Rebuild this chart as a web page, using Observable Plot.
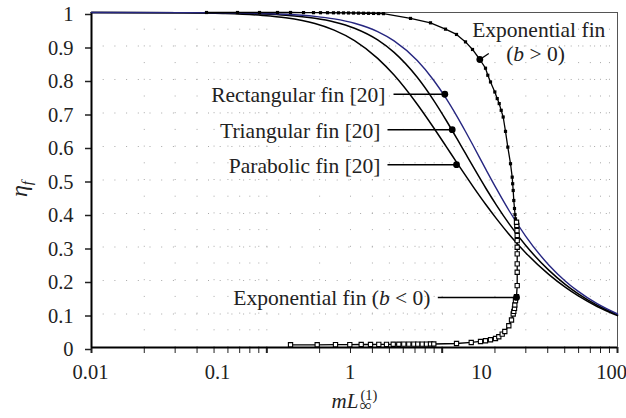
<!DOCTYPE html>
<html><head><meta charset="utf-8">
<script src="https://cdn.jsdelivr.net/npm/d3@7"></script>
<script src="https://cdn.jsdelivr.net/npm/@observablehq/plot@0.6"></script>
<style>
body{margin:0;background:#fff;}
#chart{width:626px;height:418px;overflow:hidden;}
</style></head><body><div id="chart"></div>
<script>
// ---- data (x = mL∞(1) as read against the axis labels, y = η_f) ----
const mL = [0.01,0.05,0.1,0.2,0.3,0.5,0.7,1,1.5,2,3,4,5,6,7,8,10,12,15,20,30,40,50,70,100];
const etaRect = [1.0,0.9996,0.9990,0.9970,0.9946,0.9884,0.9809,0.9680,0.9430,0.9153,0.8566,0.7978,0.7421,0.6907,0.6441,0.6023,0.5311,0.4741,0.4082,0.3327,0.2465,0.1988,0.1682,0.1307,0.1000];
const etaTri  = [1.0,0.9994,0.9984,0.9956,0.9919,0.9827,0.9718,0.9531,0.9182,0.8809,0.8065,0.7378,0.6769,0.6241,0.5784,0.5389,0.4746,0.4250,0.3689,0.3050,0.2310,0.1887,0.1610,0.1263,0.0975];
const etaPara = [1.0,0.9989,0.9969,0.9912,0.9841,0.9670,0.9474,0.9161,0.8631,0.8131,0.7261,0.6559,0.5989,0.5521,0.5129,0.4796,0.4260,0.3847,0.3376,0.2831,0.2181,0.1800,0.1546,0.1224,0.0951];

const expPosX   = [0.0749,0.1289,0.1895,0.2597,0.3262,0.4096,0.4878,0.5513,0.6233,0.6922,0.7555,0.8249,0.9003,0.9826,1.0725,1.1706,1.2779,1.3946,1.5222,1.6614,2.667,3.784,4.920,5.968,6.986,7.896,8.974,9.913,10.32,10.82,11.67,12.17,12.60,13.05,13.51,14.07,14.65,15.36,15.82,15.95,16.10,16.27,16.47,16.62,16.76];
const expPosEta = [1.0,1.0,1.0,1.0,1.0,0.9997,0.9996,0.9994,0.9993,0.9991,0.9990,0.9988,0.9986,0.9984,0.9981,0.9978,0.9975,0.9972,0.9969,0.9966,0.9823,0.9692,0.9503,0.9345,0.9123,0.8896,0.8597,0.8337,0.8127,0.7927,0.7628,0.7430,0.7281,0.7080,0.6880,0.6452,0.5982,0.5486,0.5085,0.4888,0.4687,0.4388,0.4149,0.3969,0.3841];

const expNegX   = [0.3262,0.5204,0.7169,0.9211,1.1246,1.3233,1.5302,1.7512,1.9701,2.1727,2.3714,2.5882,2.8249,3.0295,3.2722,3.5277,3.7844,4.0087,5.968,7.722,9.084,9.913,10.82,11.81,12.51,13.28,13.90,14.91,15.63,16.10,16.27,16.47,16.56,16.76,17.06,17.27,17.27,17.27,17.27,17.27,17.27,17.27,17.21,17.15,17.06];
const expNegEta = [0.0081,0.0081,0.0087,0.0087,0.0090,0.0090,0.0093,0.0093,0.0096,0.0096,0.0099,0.0099,0.0099,0.0102,0.0102,0.0102,0.0105,0.0105,0.0120,0.0150,0.0180,0.0201,0.0231,0.0270,0.0321,0.0401,0.0479,0.0650,0.0821,0.0999,0.1078,0.1168,0.1270,0.1398,0.1518,0.1847,0.2245,0.2496,0.2795,0.2993,0.3192,0.3342,0.3491,0.3641,0.3740];

// annotated points
const annLabels = ["Rectangular fin [20]","Triangular fin [20]","Parabolic fin [20]","Exponential fin (b < 0)"];
const annX   = [4.861,5.534,5.968,17.06];
const annEta = [0.7559,0.6503,0.5456,0.1496];
const expPosDotX = 8.974, expPosDotEta = 0.8597;

// ticks
const xTickLabels = [0.01,0.1,1,10,100];
const yTicks = [0,0.1,0.2,0.3,0.4,0.5,0.6,0.7,0.8,0.9,1];
const decadeStarts = [0.01,0.1,1];   // tick-mark decades of the original axis
const multiples = [1,2,3,4,5,6,7,8,9];

// ---- layout helpers ----
// the original tick marks span three decades across the four labelled decades
const stretch = t => Math.pow(10, (4/3)*(Math.log10(t)+2) - 2);
const majorMarks = [...decadeStarts, 10].map(stretch);
const minorMarks = decadeStarts.flatMap(d => multiples.slice(1).map(k => stretch(k*d)));
const gridX = [...majorMarks, ...minorMarks].filter(v => v > 0.0101 && v < 99);
const gridY = yTicks.filter(v => v > 0 && v < 1);
const labelDx = [-1, -5.5, -4.5, -4.5, -6];

const tbl = (xs, ys) => xs.map((x,i) => ({x, y: ys[i]}));
const rect = tbl(mL, etaRect), tri = tbl(mL, etaTri), para = tbl(mL, etaPara);
const pos = tbl(expPosX, expPosEta), neg = tbl(expNegX, expNegEta);
const ann = annLabels.map((label,i) => ({label, x: annX[i], y: annEta[i]}));
// label end / leader start positions (x in data units)
const annTextEnd  = [1.721,1.577,1.577,3.784];
const annLineFrom = [1.98,1.782,1.782,4.30];
const leaders = ann.map((a,i) => ({x1: annLineFrom[i], x2: a.x, y: a.y}));
const labels = ann.map((a,i) => ({label: a.label, x: annTextEnd[i], y: a.y}));

const FS = 21.5;
const plot = Plot.plot({
  width: 626, height: 418,
  marginLeft: 91, marginRight: 9, marginTop: 12, marginBottom: 71,
  x: {type: "log", domain: [0.01, 100]},
  y: {domain: [0, 1]},
  style: {fontFamily: "'Liberation Serif', serif", fontSize: "20.5px", color: "#222", background: "#fff"},
  marks: [
    Plot.ruleX(gridX, {y1: 0, y2: 1, stroke: "#a8a8a8", strokeWidth: 1, strokeDasharray: "1,15.7"}),
    Plot.ruleY(gridY, {x1: 0.01, x2: 100, stroke: "#a8a8a8", strokeWidth: 1, strokeDasharray: "1,10.7"}),
    Plot.frame({stroke: "#555", strokeWidth: 1}),
    Plot.axisY(yTicks, {tickSize: 6, tickPadding: 12, strokeWidth: 1.5, dy: 2, fontSize: 20.5,
      tickFormat: d => String(+d.toFixed(1)), label: null}),
    ...xTickLabels.map((v, i) => Plot.axisX([v], {tickSize: 0, tickPadding: 17, fontSize: 20.5, dx: labelDx[i],
      tickFormat: d => String(d), label: null})),
    Plot.axisX(majorMarks, {tickSize: 6, strokeWidth: 2, tickFormat: () => "", label: null}),
    Plot.axisX(minorMarks, {tickSize: 6, strokeWidth: 1, tickFormat: () => "", label: null}),
    Plot.ruleY([0], {stroke: "#000", strokeWidth: 2}),
    Plot.ruleX([0.01], {stroke: "#000", strokeWidth: 2}),
    Plot.line(para, {x: "x", y: "y", stroke: "#000", strokeWidth: 1.5, curve: "monotone-x"}),
    Plot.line(tri,  {x: "x", y: "y", stroke: "#000", strokeWidth: 1.5, curve: "monotone-x"}),
    Plot.line(rect, {x: "x", y: "y", stroke: "#262680", strokeWidth: 1.4, curve: "monotone-x"}),
    Plot.line(pos, {x: "x", y: "y", stroke: "#000", strokeWidth: 1.3}),
    Plot.dot(pos, {x: "x", y: "y", symbol: "square", r: 1.8, fill: "#000"}),
    Plot.line(neg, {x: "x", y: "y", stroke: "#000", strokeWidth: 1.3}),
    Plot.dot(neg, {x: "x", y: "y", symbol: "square", r: 2.4, fill: "#fff", stroke: "#000", strokeWidth: 1.1}),
    Plot.link(leaders, {x1: "x1", x2: "x2", y1: "y", y2: "y", stroke: "#000", strokeWidth: 1.5}),
    Plot.link([{x1: expPosDotX, y1: expPosDotEta, x2: 10.5, y2: 0.8777}], {x1: "x1", y1: "y1", x2: "x2", y2: "y2", stroke: "#000", strokeWidth: 1.3}),
    Plot.dot(ann, {x: "x", y: "y", r: 3.4, fill: "#000"}),
    Plot.dot([{x: expPosDotX, y: expPosDotEta}], {x: "x", y: "y", r: 3.4, fill: "#000"}),
    Plot.text(labels, {x: "x", y: "y", text: "label", textAnchor: "end", dy: 1, fontSize: FS, fill: "#222"}),
    Plot.text(["Exponential fin"], {x: 25.2, y: 0.9474, text: d => d, textAnchor: "middle", fontSize: FS, fill: "#222"}),
    Plot.text(["(b > 0)"], {x: 23.8, y: 0.8756, text: d => d, textAnchor: "middle", fontSize: FS, fill: "#222"})
  ]
});
document.getElementById("chart").appendChild(plot);

// italic "b" inside the exponential labels
d3.select(plot).selectAll("text").each(function() {
  const t = this.textContent;
  const m = t.match(/^(.*\()b( .*)$/);
  if (m && this.children.length === 0) {
    const s = d3.select(this);
    s.text(null);
    s.append("tspan").text(m[1]);
    s.append("tspan").attr("font-style", "italic").text("b");
    s.append("tspan").text(m[2]);
  }
});

// axis titles
const svg = d3.select(plot);
const xt = svg.append("text").attr("x", 331.5).attr("y", 408).attr("text-anchor", "start")
  .attr("font-family", "'Liberation Serif', serif").attr("fill", "#222");
xt.append("tspan").attr("font-size", 21).attr("font-style", "italic").text("mL");
xt.append("tspan").attr("font-size", 17).attr("dx", 1.5).attr("dy", 3).text("∞");
xt.append("tspan").attr("font-size", 14.5).attr("dx", -11.5).attr("dy", -11).text("(1)");
const yt = svg.append("text").attr("transform", "translate(27,189) rotate(-90)")
  .attr("font-family", "'Liberation Serif', serif").attr("fill", "#222").attr("text-anchor", "middle");
yt.append("tspan").attr("font-size", 24).attr("font-style", "italic").text("η");
yt.append("tspan").attr("font-size", 15).attr("font-style", "italic").attr("dy", 5).text("f");
</script></body></html>
